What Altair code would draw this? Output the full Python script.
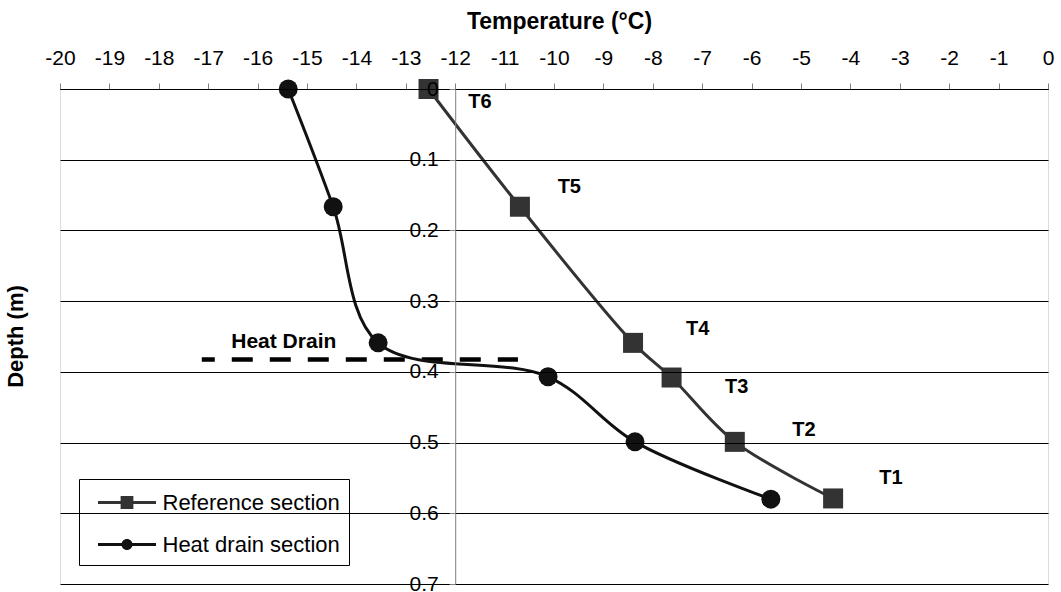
import altair as alt
import pandas as pd

# ---- data ----
ref_temp = [-12.54, -10.69, -8.40, -7.62, -6.34, -4.35]
ref_depth = [0.0, 0.1665, 0.359, 0.408, 0.499, 0.579]
hd_temp = [-15.38, -14.47, -13.56, -10.12, -8.36, -5.61]
hd_depth = [0.0, 0.1665, 0.359, 0.407, 0.499, 0.580]

sensor_names = ["T6", "T5", "T4", "T3", "T2", "T1"]
sensor_label_temp = [-11.50, -9.69, -7.09, -6.30, -4.94, -3.18]
sensor_label_depth = [0.019, 0.139, 0.340, 0.422, 0.4825, 0.550]

drain_label = ["Heat Drain"]
drain_label_temp = [-15.47]
drain_label_depth = [0.358]
drain_line_temp = [-17.13]
drain_line_temp2 = [-10.73]
drain_line_depth = [0.3825]

series_names = ["Reference section", "Heat drain section"]
series_colors = ["#333333", "#111111"]

x_ticks = list(range(-20, 1))
y_ticks = [0, 0.1, 0.2, 0.3, 0.4, 0.5, 0.6, 0.7]

FONT = "Liberation Sans"
W, H = 988, 495

ref_df = pd.DataFrame({"temp": ref_temp, "depth": ref_depth})
hd_df = pd.DataFrame({"temp": hd_temp, "depth": hd_depth})
lab_df = pd.DataFrame({"temp": sensor_label_temp, "depth": sensor_label_depth, "name": sensor_names})
drain_df = pd.DataFrame({"temp": drain_label_temp, "depth": drain_label_depth, "name": drain_label})
rule_df = pd.DataFrame({"temp": drain_line_temp, "temp2": drain_line_temp2, "depth": drain_line_depth})
leg_df = pd.DataFrame({"temp": [-10.0, -10.0], "depth": [0.3, 0.3], "series": series_names})

axis_x_px = (-12 - (-20)) / 20 * W  # pixel position of the vertical axis

x_enc = alt.X(
    "temp:Q",
    scale=alt.Scale(domain=[-20, 0], nice=False, zero=False),
    axis=alt.Axis(
        orient="top", values=x_ticks, labelExpr="'' + datum.value",
        title="Temperature (°C)", titleFont=FONT, titleFontSize=23, titleFontWeight="bold",
        titleColor="black", titleX=499, titleY=-60.7, titleBaseline="alphabetic",
        titleAnchor="middle", titleAlign="center",
        labelFont=FONT, labelFontSize=21, labelColor="black", labelPadding=15,
        labelFlush=False, labelOverlap=False, labelBound=False,
        tickSize=6, tickColor="#808080", domainColor="black", grid=False,
    ),
)
y_enc = alt.Y(
    "depth:Q",
    scale=alt.Scale(domain=[0, 0.7], reverse=True, nice=False, zero=False),
    axis=alt.Axis(
        orient="left", values=y_ticks, labelExpr="'' + datum.value",
        offset=-axis_x_px, title=None,
        labelFont=FONT, labelFontSize=21, labelColor="black", labelPadding=11,
        labelFlush=False, labelOverlap=False, labelBound=False,
        tickSize=6, tickColor="#808080", domainColor="#808080",
        grid=True, gridColor="black", gridWidth=1, zindex=1,
    ),
)

ref_line = alt.Chart(ref_df).mark_line(color=series_colors[0], strokeWidth=3, interpolate="catmull-rom").encode(
    order="depth:Q")
hd_line = alt.Chart(hd_df).mark_line(color=series_colors[1], strokeWidth=3, interpolate="catmull-rom").encode(
    order="depth:Q")
ref_pts = alt.Chart(ref_df).mark_point(shape="square", filled=True, size=400, color=series_colors[0], opacity=1)
hd_pts = alt.Chart(hd_df).mark_point(shape="circle", filled=True, size=361, color=series_colors[1], opacity=1)

# legend glyphs: a line with its marker; symbol size 29px -> r = 14.5px, line spans +-2 units (58px)
sq_path = "M-2,-0.1H2V0.1H-2Z M-0.44,-0.44H0.44V0.44H-0.44Z"
ci_path = "M-2,-0.1H2V0.1H-2Z M0.38,0A0.38,0.38 0 1,1 -0.38,0A0.38,0.38 0 1,1 0.38,0Z"

leg = dict(title=None, orient="none", legendX=19, legendY=390,
           labelFont=FONT, labelFontSize=22, labelColor="black", labelLimit=400,
           symbolSize=841, symbolStrokeWidth=0, symbolOpacity=1, symbolOffset=24.5,
           labelOffset=21, strokeColor="black", fillColor="white",
           padding=9, rowPadding=16, cornerRadius=0)

legend_layer = alt.Chart(leg_df).transform_filter("datum.depth < 0").mark_point(filled=True, opacity=1).encode(
    color=alt.Color("series:N", scale=alt.Scale(domain=series_names, range=series_colors),
                    legend=alt.Legend(**leg)),
    shape=alt.Shape("series:N", scale=alt.Scale(domain=series_names, range=[sq_path, ci_path]),
                    legend=alt.Legend(**leg)),
)

labels = alt.Chart(lab_df).mark_text(font=FONT, fontSize=20, fontWeight="bold", color="black",
                                     align="center", baseline="middle").encode(text="name:N")
drain_text = alt.Chart(drain_df).mark_text(font=FONT, fontSize=21, fontWeight="bold", color="black",
                                           align="center", baseline="middle").encode(text="name:N")
drain_rule = alt.Chart(rule_df).mark_rule(color="black", strokeWidth=4.5, strokeDash=[21, 17],
                                          strokeDashOffset=8).encode(x2="temp2:Q")

chart = alt.layer(
    drain_rule, ref_line, hd_line, ref_pts, hd_pts, legend_layer, labels, drain_text
).encode(x=x_enc, y=y_enc).properties(
    width=W, height=H,
    title=alt.TitleParams(text="Depth (m)", orient="left", frame="group", anchor="middle",
                          offset=17, font=FONT, fontSize=22, fontWeight="bold", color="black"),
    autosize=alt.AutoSizeParams(type="none"),
    padding={"left": 60, "top": 89, "right": 13, "bottom": 8},
).configure_view(stroke="black", strokeWidth=1).configure(background="white")

chart.save("out.html", embed_options={"renderer": "svg", "actions": False})
